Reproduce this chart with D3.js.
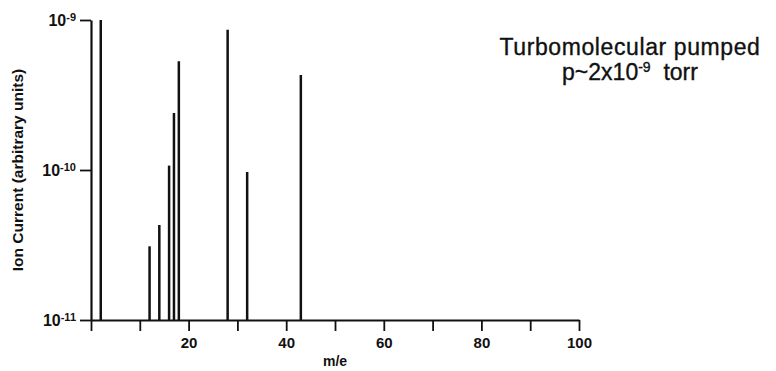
<!DOCTYPE html>
<html>
<head>
<meta charset="utf-8">
<script src="https://cdn.jsdelivr.net/npm/d3@7"></script>
<style>
  html, body { margin: 0; padding: 0; background: #fff; }
  svg { display: block; }
  text { font-family: "Liberation Sans", Arial, Helvetica, sans-serif; fill: #111; }
</style>
</head>
<body>
<svg id="chart" width="776" height="371"></svg>
<script>
// ---- data ----
const massNumbers = [2, 12, 14, 16, 17, 18, 28, 32, 43];
const ionCurrents = [1.0e-9, 3.1e-11, 4.3e-11, 1.07e-10, 2.4e-10, 5.3e-10, 8.6e-10, 9.7e-11, 4.3e-10];
const xTicks = [0, 10, 20, 30, 40, 50, 60, 70, 80, 90, 100];
const xTickLabels = ["", "", "20", "", "40", "", "60", "", "80", "", "100"];
const yTicks = [1e-11, 1e-10, 1e-9];
const yTickExponents = ["-11", "-10", "-9"];
const xTitle = "m/e";
const yTitle = "Ion Current (arbitrary units)";
const noteLine1 = "Turbomolecular pumped";
const notePressure = ["p~2x10", "-9", "\u00a0\u00a0torr"];

// ---- layout ----
const svg = d3.select("#chart");
const x = d3.scaleLinear().domain([0, 100]).range([91, 579]);
const y = d3.scaleLog().domain([1e-11, 1e-9]).range([320, 20]);
const ink = "#111";

// peaks
svg.append("g")
  .selectAll("line")
  .data(massNumbers.map((m, i) => ({ m, v: ionCurrents[i] })))
  .join("line")
  .attr("x1", d => x(d.m)).attr("x2", d => x(d.m))
  .attr("y1", y(1e-11)).attr("y2", d => y(d.v))
  .attr("stroke", ink).attr("stroke-width", 2.5);

// x axis
const xAxis = d3.axisBottom(x)
  .tickValues(xTicks)
  .tickSize(11)
  .tickSizeOuter(0)
  .tickPadding(6)
  .tickFormat((d, i) => xTickLabels[i]);
const gx = svg.append("g").attr("transform", `translate(0,${y(1e-11)})`).call(xAxis);
gx.select(".domain").attr("stroke", ink).attr("stroke-width", 2.2);
gx.selectAll(".tick line").attr("stroke", ink).attr("stroke-width", 1.8);
gx.selectAll(".tick text")
  .style("font-size", "15px").style("font-weight", "bold").attr("fill", ink);

// y axis
const yAxis = d3.axisLeft(y)
  .tickValues(yTicks)
  .tickSize(11)
  .tickSizeOuter(0)
  .tickPadding(4)
  .tickFormat(() => "");
const gy = svg.append("g").attr("transform", `translate(${x(0)},0)`).call(yAxis);
gy.select(".domain").attr("stroke", ink).attr("stroke-width", 2.2);
gy.selectAll(".tick line").attr("stroke", ink).attr("stroke-width", 1.8);
gy.selectAll(".tick text").each(function(d, i) {
  const t = d3.select(this);
  t.style("font-size", "16px").style("font-weight", "bold").attr("fill", ink);
  t.append("tspan").text("10");
  t.append("tspan").attr("dy", "-0.45em").style("font-size", "11px").text(yTickExponents[i]);
});

// axis titles
svg.append("text")
  .attr("x", x(50)).attr("y", 366)
  .attr("text-anchor", "middle")
  .style("font-size", "14px").style("font-weight", "bold")
  .text(xTitle);

svg.append("text")
  .attr("transform", `translate(23,${(y(1e-9) + y(1e-11)) / 2}) rotate(-90)`)
  .attr("text-anchor", "middle")
  .style("font-size", "15.5px").style("font-weight", "bold")
  .text(yTitle);

// annotation
svg.append("text")
  .attr("x", 630).attr("y", 55)
  .attr("text-anchor", "middle")
  .style("font-size", "23px")
  .style("letter-spacing", "0.6px")
  .attr("stroke", ink).attr("stroke-width", 0.35)
  .text(noteLine1);

const note2 = svg.append("text")
  .attr("x", 630).attr("y", 80)
  .attr("text-anchor", "middle")
  .style("font-size", "23px")
  .attr("stroke", ink).attr("stroke-width", 0.35);
note2.append("tspan").text(notePressure[0]);
note2.append("tspan").attr("dy", "-8").style("font-size", "14px").text(notePressure[1]);
note2.append("tspan").attr("dy", "8").text(notePressure[2]);
</script>
</body>
</html>
